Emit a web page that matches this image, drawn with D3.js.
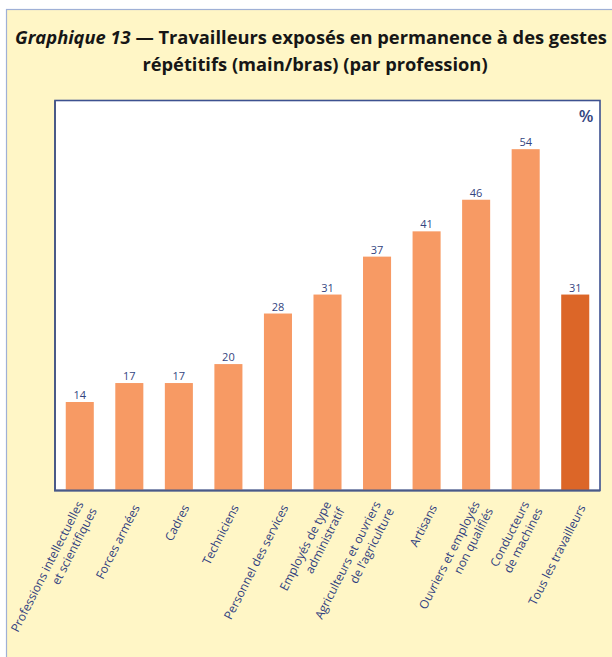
<!DOCTYPE html>
<html>
<head>
<meta charset="utf-8">
<script src="https://cdn.jsdelivr.net/npm/d3@7"></script>
<style>
  body { margin: 0; background: #fff; }
  svg { display: block; }
</style>
</head>
<body>
<div id="vis"></div>
<script>
// categories (line breaks as in the original labels)
var categories = [
  "Professions intellectuelles\net scientifiques",
  "Forces armées",
  "Cadres",
  "Techniciens",
  "Personnel des services",
  "Employés de type\nadministratif",
  "Agriculteurs et ouvriers\nde l’agriculture",
  "Artisans",
  "Ouvriers et employés\nnon qualifiés",
  "Conducteurs\nde machines",
  "Tous les travailleurs"
];
var values = [14, 17, 17, 20, 28, 31, 37, 41, 46, 54, 31];
var highlight = "Tous les travailleurs";

var width = 612, height = 657;

var svg = d3.select("#vis").append("svg")
  .attr("width", width)
  .attr("height", height);

// yellow panel with thin border
svg.append("rect")
  .attr("x", 6.5).attr("y", 9.5)
  .attr("width", 620).attr("height", 660)
  .attr("fill", "#fff6c6")
  .attr("stroke", "#9fb0d6")
  .attr("stroke-width", 1.2);

// title
var title = svg.append("text")
  .attr("font-family", "'Open Sans', sans-serif")
  .attr("font-weight", "bold")
  .attr("font-size", 17)
  .attr("fill", "#161616");
var t1 = title.append("tspan").attr("x", 311).attr("y", 44).attr("text-anchor", "middle");
t1.append("tspan").attr("font-style", "italic").text("Graphique 13");
t1.append("tspan").text(" — Travailleurs exposés en permanence à des gestes");
title.append("tspan").attr("x", 315).attr("y", 71).attr("text-anchor", "middle")
  .text("répétitifs (main/bras) (par profession)");

// fit the title width to the original (about 592px)
var tw = t1.node().getComputedTextLength();
title.attr("font-size", 17 * 592 / tw);

var margin = {top: 100.5, right: 600, bottom: 490.5, left: 55};

var x = d3.scaleBand()
  .domain(categories)
  .range([margin.left, margin.right])
  .paddingInner(0.434)
  .paddingOuter(0.217);

var y = d3.scaleLinear()
  .domain([0, 61.7])
  .range([margin.bottom, margin.top]);

// plot frame
svg.append("rect")
  .attr("x", margin.left).attr("y", margin.top)
  .attr("width", margin.right - margin.left)
  .attr("height", margin.bottom - margin.top)
  .attr("fill", "#fff")
  .attr("stroke", "#3d5190")
  .attr("stroke-width", 1.6);

// bars
svg.selectAll(".bar")
  .data(values)
  .enter().append("rect")
    .attr("class", "bar")
    .attr("x", function(d, i) { return x(categories[i]); })
    .attr("y", function(d) { return y(d); })
    .attr("width", x.bandwidth())
    .attr("height", function(d) { return y(0) - y(d); })
    .attr("fill", function(d, i) { return categories[i] == highlight ? "#dc6628" : "#f79a64"; });

// value labels
svg.selectAll(".val")
  .data(values)
  .enter().append("text")
    .attr("class", "val")
    .attr("x", function(d, i) { return x(categories[i]) + x.bandwidth() / 2; })
    .attr("y", function(d) { return y(d) - 3; })
    .attr("text-anchor", "middle")
    .attr("font-family", "'Open Sans', sans-serif")
    .attr("font-size", 11)
    .attr("fill", "#34457f")
    .text(function(d) { return d; });

// redraw bottom/left edges on top of bars
svg.append("path")
  .attr("d", "M" + margin.left + "," + margin.top + "V" + margin.bottom + "H" + margin.right)
  .attr("fill", "none")
  .attr("stroke", "#4a5a88")
  .attr("stroke-width", 2);

// percent sign
svg.append("text")
  .attr("x", 586).attr("y", 122)
  .attr("text-anchor", "middle")
  .attr("font-family", "'Open Sans', sans-serif")
  .attr("font-weight", 600)
  .attr("font-size", 17)
  .attr("fill", "#34457f")
  .text("%");

// x axis with rotated multi-line labels
var xAxis = svg.append("g")
  .attr("class", "axis axis--x")
  .attr("transform", "translate(0," + margin.bottom + ")")
  .call(d3.axisBottom(x).tickSize(0).tickFormat(""));
xAxis.select(".domain").remove();

var labelSize = 12;
xAxis.selectAll(".tick text")
  .attr("font-family", "'Open Sans', sans-serif")
  .attr("font-size", labelSize)
  .attr("fill", "#2f4080")
  .attr("text-anchor", "end")
  .attr("y", null).attr("dy", null)
  .attr("transform", "translate(7,15) rotate(-63)")
  .each(function(d) {
    var lines = d.split("\n");
    var el = d3.select(this);
    lines.forEach(function(line, j) {
      var dy;
      if (lines.length == 1) dy = "0.35em";
      else dy = j == 0 ? "-0.28em" : "1.24em";
      el.append("tspan").attr("x", 0).attr("dy", dy).text(line);
    });
  });
</script>
</body>
</html>
